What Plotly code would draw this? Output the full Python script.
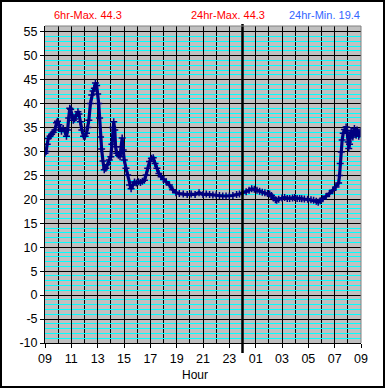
import plotly.graph_objects as go

# Hours since 09:00 of day 1 (9 .. 33 = 09:00 next day)
hours = [
    9.00, 9.08, 9.17, 9.25, 9.38, 9.50, 9.63, 9.75, 9.88, 9.95,
    10.05, 10.15, 10.25, 10.38, 10.50, 10.63, 10.72, 10.80, 10.88, 10.95,
    11.05, 11.15, 11.25, 11.38, 11.50, 11.58, 11.68, 11.80, 11.93, 12.05,
    12.15, 12.25, 12.33, 12.45, 12.55, 12.65, 12.75, 12.83, 12.92, 13.00,
    13.08, 13.15, 13.22, 13.30, 13.40, 13.50, 13.62, 13.75, 13.88, 14.00,
    14.08, 14.15, 14.22, 14.30, 14.36, 14.45, 14.58, 14.70, 14.78, 14.86,
    14.94, 15.02, 15.15, 15.28, 15.42, 15.54, 15.67, 15.80, 15.95, 16.10,
    16.25, 16.40, 16.55, 16.68, 16.80, 16.94, 17.08, 17.22, 17.36, 17.50,
    17.65, 17.82, 18.00, 18.20, 18.45, 18.70, 18.95, 19.20, 19.50, 19.80,
    20.10, 20.40, 20.70, 21.00, 21.25, 21.50, 21.75, 22.00, 22.25, 22.50,
    22.75, 23.00, 23.27, 23.55, 23.77, 24.00, 24.28, 24.50, 24.70, 24.90,
    25.10, 25.30, 25.50, 25.70, 25.90, 26.06, 26.20, 26.35, 26.50, 26.60,
    26.75, 27.00, 27.20, 27.40, 27.58, 27.80, 27.96, 28.15, 28.34, 28.50,
    28.70, 28.95, 29.20, 29.40, 29.60, 29.75, 29.90, 30.10, 30.35, 30.60,
    30.86, 31.10, 31.30, 31.37, 31.42, 31.50, 31.57, 31.65, 31.75, 31.87,
    31.95, 32.02, 32.07, 32.13, 32.18, 32.25, 32.32, 32.38, 32.45, 32.50,
    32.57, 32.63, 32.70, 32.76, 32.83, 32.89, 32.95, 33.00,
]

temps = [
    29.6, 30.0, 31.5, 32.7, 33.2, 33.6, 34.0, 34.5, 36.0, 36.3,
    35.6, 35.0, 34.2, 34.8, 34.2, 33.2, 34.5, 37.0, 39.0, 38.8,
    37.2, 36.5, 36.8, 37.6, 38.3, 37.8, 36.2, 34.5, 33.2, 33.2,
    33.8, 35.0, 36.5, 40.0, 41.8, 42.6, 43.2, 44.3, 43.8, 42.0,
    40.0, 37.0, 33.0, 30.5, 28.0, 26.2, 26.5, 27.2, 28.2, 28.9,
    31.5, 35.0, 36.2, 34.5, 31.0, 29.6, 29.2, 28.9, 31.0, 32.8,
    30.3, 28.2, 26.5, 25.1, 23.0, 22.2, 23.0, 23.6, 23.4, 23.7,
    23.5, 23.8, 24.0, 25.1, 26.5, 27.9, 28.6, 28.7, 27.5, 26.5,
    25.4, 24.7, 24.2, 23.7, 23.0, 22.0, 21.4, 21.2, 21.1, 21.0,
    21.1, 21.0, 21.4, 21.0, 21.1, 21.0, 20.9, 20.9, 20.8, 20.7,
    20.7, 20.7, 20.8, 21.0, 21.1, 21.4, 21.6, 21.9, 22.2, 22.1,
    21.9, 21.7, 21.5, 21.4, 21.2, 21.1, 20.8, 20.3, 19.9, 19.8,
    20.0, 20.3, 20.4, 20.2, 20.2, 20.3, 20.4, 20.2, 20.2, 20.1,
    20.05, 20.0, 19.9, 19.8, 19.6, 19.4, 19.7, 20.1, 20.6, 21.2,
    21.9, 22.6, 23.4, 25.0, 27.5, 29.9, 32.4, 33.8, 34.6, 35.1,
    34.0, 32.0, 30.6, 31.5, 32.8, 34.4, 33.8, 33.0, 34.2, 34.8,
    34.0, 33.4, 34.5, 34.1, 33.2, 33.6, 34.2, 33.8,
]

x_tick_vals = [9, 11, 13, 15, 17, 19, 21, 23, 25, 27, 29, 31, 33]
x_tick_text = ["09", "11", "13", "15", "17", "19", "21", "23", "01", "03", "05", "07", "09"]
y_tick_vals = [-10, -5, 0, 5, 10, 15, 20, 25, 30, 35, 40, 45, 50, 55]
y_tick_text = ["-10", "-5", "0", "5", "10", "15", "20", "25", "30", "35", "40", "45", "50", "55"]

header_texts = ["6hr-Max. 44.3", "24hr-Max. 44.3", "24hr-Min. 19.4"]
header_colors = ["#ff0000", "#ff0000", "#3366ff"]
header_x = [0.136, 0.579, 0.883]

FONT = "Liberation Sans, Arial, sans-serif"
NAVY = "#000080"

fig = go.Figure()
fig.add_trace(go.Scatter(
    x=hours, y=temps, mode="lines+markers",
    line=dict(color=NAVY, width=3.2),
    marker=dict(symbol="cross-thin", size=5, color=NAVY, line=dict(color=NAVY, width=1.5)),
    showlegend=False, hoverinfo="skip",
))

W, H = 385, 388
ML, MR, MT, MB = 45, 24, 26, 45
PW, PH = W - ML - MR, H - MT - MB

def px_x(p):
    return (p - ML) / PW

def px_y(p):
    return (H - MB - p) / PH

shapes = [
    # midnight divider
    dict(type="line", xref="x", yref="paper", x0=24, x1=24, y0=px_y(353), y1=px_y(24),
         line=dict(color="black", width=2.5), layer="above"),
    # gray top / right plot border
    dict(type="line", xref="paper", yref="paper", x0=0, x1=1, y0=1, y1=1,
         line=dict(color="#808080", width=1), layer="above"),
    dict(type="line", xref="paper", yref="paper", x0=1, x1=1, y0=0, y1=1,
         line=dict(color="#808080", width=1), layer="above"),
    # outer frame
    dict(type="rect", xref="paper", yref="paper", x0=px_x(1), x1=px_x(384),
         y0=px_y(387), y1=px_y(1), line=dict(color="black", width=2), layer="above"),
]

annotations = [
    dict(text=t, x=xx, y=px_y(15), xref="paper", yref="paper", showarrow=False,
         xanchor="center", yanchor="middle", font=dict(family=FONT, size=11, color=c))
    for t, c, xx in zip(header_texts, header_colors, header_x)
]
annotations.append(dict(text="Hour", x=px_x(195), y=px_y(375), xref="paper", yref="paper",
                        showarrow=False, xanchor="center", yanchor="middle",
                        font=dict(family=FONT, size=12, color="black")))

fig.update_layout(
    width=W, height=H, autosize=False,
    margin=dict(l=ML, r=MR, t=MT, b=MB, pad=0),
    paper_bgcolor="white", plot_bgcolor="#c0c0c0",
    font=dict(family=FONT, size=12, color="black"),
    shapes=shapes, annotations=annotations,
    xaxis=dict(
        range=[9, 33], tickmode="array", tickvals=x_tick_vals, ticktext=x_tick_text,
        ticks="outside", ticklen=4, tickcolor="black", tickwidth=1,
        showgrid=True, gridcolor="black", gridwidth=1,
        minor=dict(dtick=1, tick0=9, showgrid=True, gridcolor="black", gridwidth=1, ticks=""),
        showline=True, linecolor="black", linewidth=1, zeroline=False,
        tickfont=dict(family="Liberation Sans Narrow, " + FONT, size=12.5),
        fixedrange=True,
    ),
    yaxis=dict(
        range=[-10, 56.2], tickmode="array", tickvals=y_tick_vals, ticktext=y_tick_text,
        ticks="outside", ticklen=4, tickcolor="black", tickwidth=1,
        showgrid=True, gridcolor="black", gridwidth=1,
        minor=dict(dtick=1, tick0=0, showgrid=True, gridcolor="#00ffff", gridwidth=1, ticks=""),
        showline=True, linecolor="black", linewidth=1, zeroline=False,
        tickfont=dict(family=FONT, size=12.5),
        fixedrange=True,
    ),
)

fig.write_html(
    "out.html",
    config={"displayModeBar": False, "staticPlot": True},
    post_script="document.body.style.margin='0';document.body.style.overflow='hidden';",
)
